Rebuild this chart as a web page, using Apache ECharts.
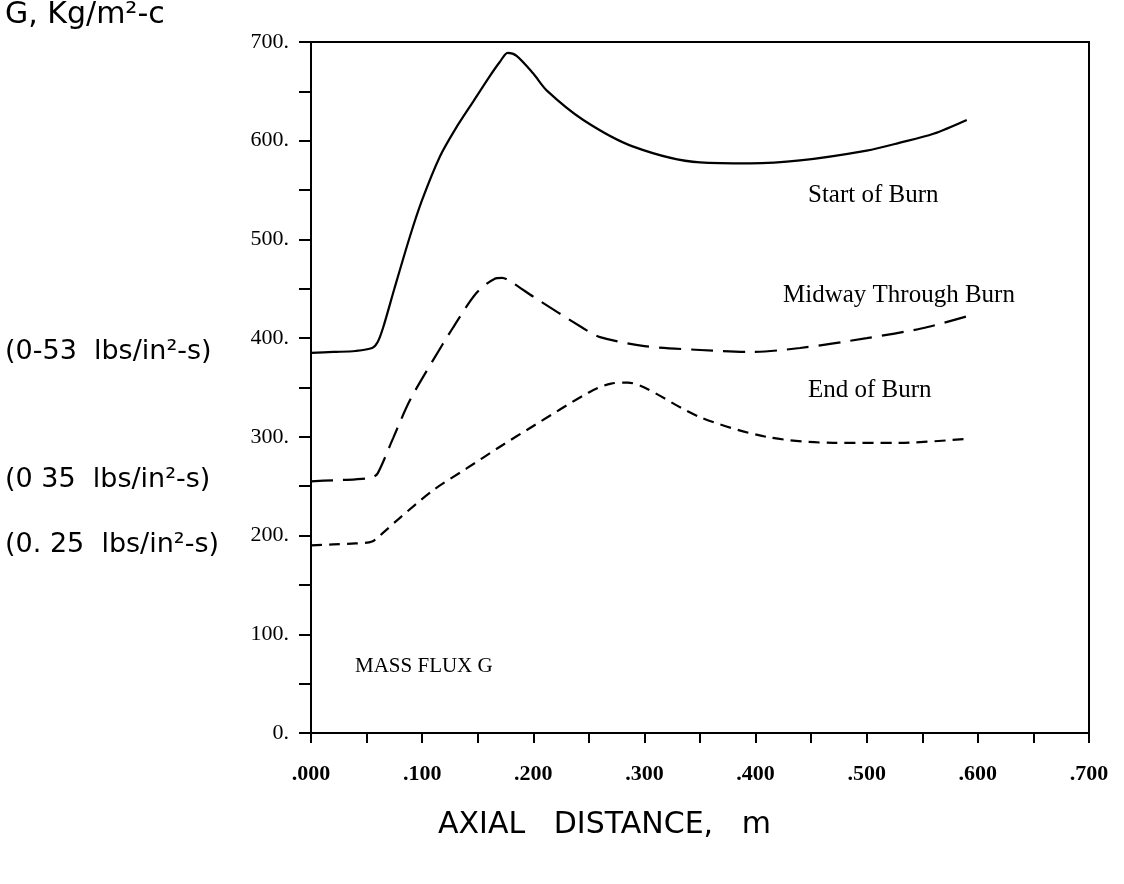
<!DOCTYPE html>
<html>
<head>
<meta charset="utf-8">
<script src="https://cdn.jsdelivr.net/npm/echarts@6/dist/echarts.min.js"></script>
<style>
html,body{margin:0;padding:0;background:#fff;}
#chart{width:1124px;height:884px;}
</style>
</head>
<body>
<div id="chart"></div>
<script>
// ---- data ----
const xTicks = [0, 0.1, 0.2, 0.3, 0.4, 0.5, 0.6, 0.7];
const xTickLabels = ['.000', '.100', '.200', '.300', '.400', '.500', '.600', '.700'];
const yTickLabels = ['0.', '100.', '200.', '300.', '400.', '500.', '600.', '700.'];

const startX = [0, 0.02, 0.04, 0.055, 0.06, 0.065, 0.075, 0.089, 0.1, 0.116, 0.13, 0.145, 0.16, 0.17, 0.177, 0.185, 0.2, 0.212, 0.245, 0.29, 0.35, 0.395, 0.44, 0.5, 0.53, 0.56, 0.59];
const startY = [385, 386, 387, 390, 396, 411, 450, 503, 540, 584, 612, 638, 664, 680, 689, 686, 668, 651, 621, 594, 578, 577, 580, 590, 598, 607, 621];

const midX = [0, 0.02, 0.04, 0.055, 0.06, 0.074, 0.089, 0.11, 0.128, 0.149, 0.165, 0.172, 0.18, 0.2, 0.245, 0.26, 0.3, 0.35, 0.395, 0.44, 0.5, 0.55, 0.59];
const midY = [255, 256, 257, 259, 263, 299, 337, 378, 411, 446, 460, 461, 457, 442, 410, 401, 392, 388, 386, 390, 400, 410, 422];

const endX = [0, 0.02, 0.04, 0.055, 0.065, 0.08, 0.11, 0.14, 0.17, 0.2, 0.25, 0.27, 0.285, 0.3, 0.35, 0.41, 0.47, 0.53, 0.59];
const endY = [190, 191, 192, 194, 203, 218, 246, 268, 290, 311, 345, 354, 355, 350, 320, 300, 294, 294, 298];

const seriesNames = ['Start of Burn', 'Midway Through Burn', 'End of Burn'];

function pairs(xs, ys) { return xs.map((x, i) => [x, ys[i]]); }

const chart = echarts.init(document.getElementById('chart'), null, {renderer: 'canvas'});
const serif = '"Liberation Serif", "DejaVu Serif", serif';
const hand = '"DejaVu Sans", "Noto Sans", sans-serif';

chart.setOption({
  backgroundColor: '#fff',
  animation: false,
  grid: {left: 311, right: 35, top: 42, bottom: 151, show: true, borderColor: '#000', borderWidth: 2, backgroundColor: 'transparent'},
  xAxis: {
    type: 'value', min: 0, max: 0.7, interval: 0.1,
    axisLine: {show: true, lineStyle: {color: '#000', width: 2}},
    axisTick: {show: true, inside: false, length: 10, lineStyle: {color: '#000', width: 2}},
    minorTick: {show: true, splitNumber: 2, length: 10, lineStyle: {color: '#000', width: 2}},
    splitLine: {show: false},
    axisLabel: {
      margin: 30, color: '#000', fontFamily: serif, fontSize: 22, fontWeight: 'bold',
      formatter: function (v) {
        const i = xTicks.findIndex(t => Math.abs(t - v) < 1e-9);
        return i >= 0 ? xTickLabels[i] : '';
      }
    }
  },
  yAxis: {
    type: 'value', min: 0, max: 700, interval: 100,
    axisLine: {show: true, lineStyle: {color: '#000', width: 2}},
    axisTick: {show: true, inside: false, length: 12, lineStyle: {color: '#000', width: 2}},
    minorTick: {show: true, splitNumber: 2, length: 12, lineStyle: {color: '#000', width: 2}},
    splitLine: {show: false},
    axisLabel: {
      margin: 22, color: '#000', fontFamily: serif, fontSize: 22,
      formatter: function (v) { return yTickLabels[Math.round(v / 100)]; }
    }
  },
  series: [
    {name: seriesNames[0], type: 'line', data: pairs(startX, startY), smooth: 0.3, symbol: 'none',
     lineStyle: {color: '#000', width: 2.2}},
    {name: seriesNames[1], type: 'line', data: pairs(midX, midY), smooth: 0.3, symbol: 'none',
     lineStyle: {color: '#000', width: 2.2, type: [22, 10]}},
    {name: seriesNames[2], type: 'line', data: pairs(endX, endY), smooth: 0.3, symbol: 'none',
     lineStyle: {color: '#000', width: 2.2, type: [11, 7]}}
  ],
  graphic: [
    {type: 'text', left: 5, top: 0, style: {text: 'G, Kg/m²-c', font: '30px ' + hand, fill: '#000'}},
    {type: 'text', left: 5, top: 338, style: {text: '(0-53  lbs/in²-s)', font: '27px ' + hand, fill: '#000'}},
    {type: 'text', left: 5, top: 466, style: {text: '(0 35  lbs/in²-s)', font: '27px ' + hand, fill: '#000'}},
    {type: 'text', left: 5, top: 531, style: {text: '(0. 25  lbs/in²-s)', font: '27px ' + hand, fill: '#000'}},
    {type: 'text', left: 355, top: 656, style: {text: 'MASS FLUX G', font: '21px ' + serif, fill: '#000'}},
    {type: 'text', left: 808, top: 183, style: {text: seriesNames[0], font: '25px ' + serif, fill: '#000'}},
    {type: 'text', left: 783, top: 283, style: {text: seriesNames[1], font: '25px ' + serif, fill: '#000'}},
    {type: 'text', left: 808, top: 378, style: {text: seriesNames[2], font: '25px ' + serif, fill: '#000'}},
    {type: 'text', left: 438, top: 810, style: {text: 'AXIAL   DISTANCE,   m', font: '30px ' + hand, fill: '#000'}}
  ]
});
</script>
</body>
</html>
